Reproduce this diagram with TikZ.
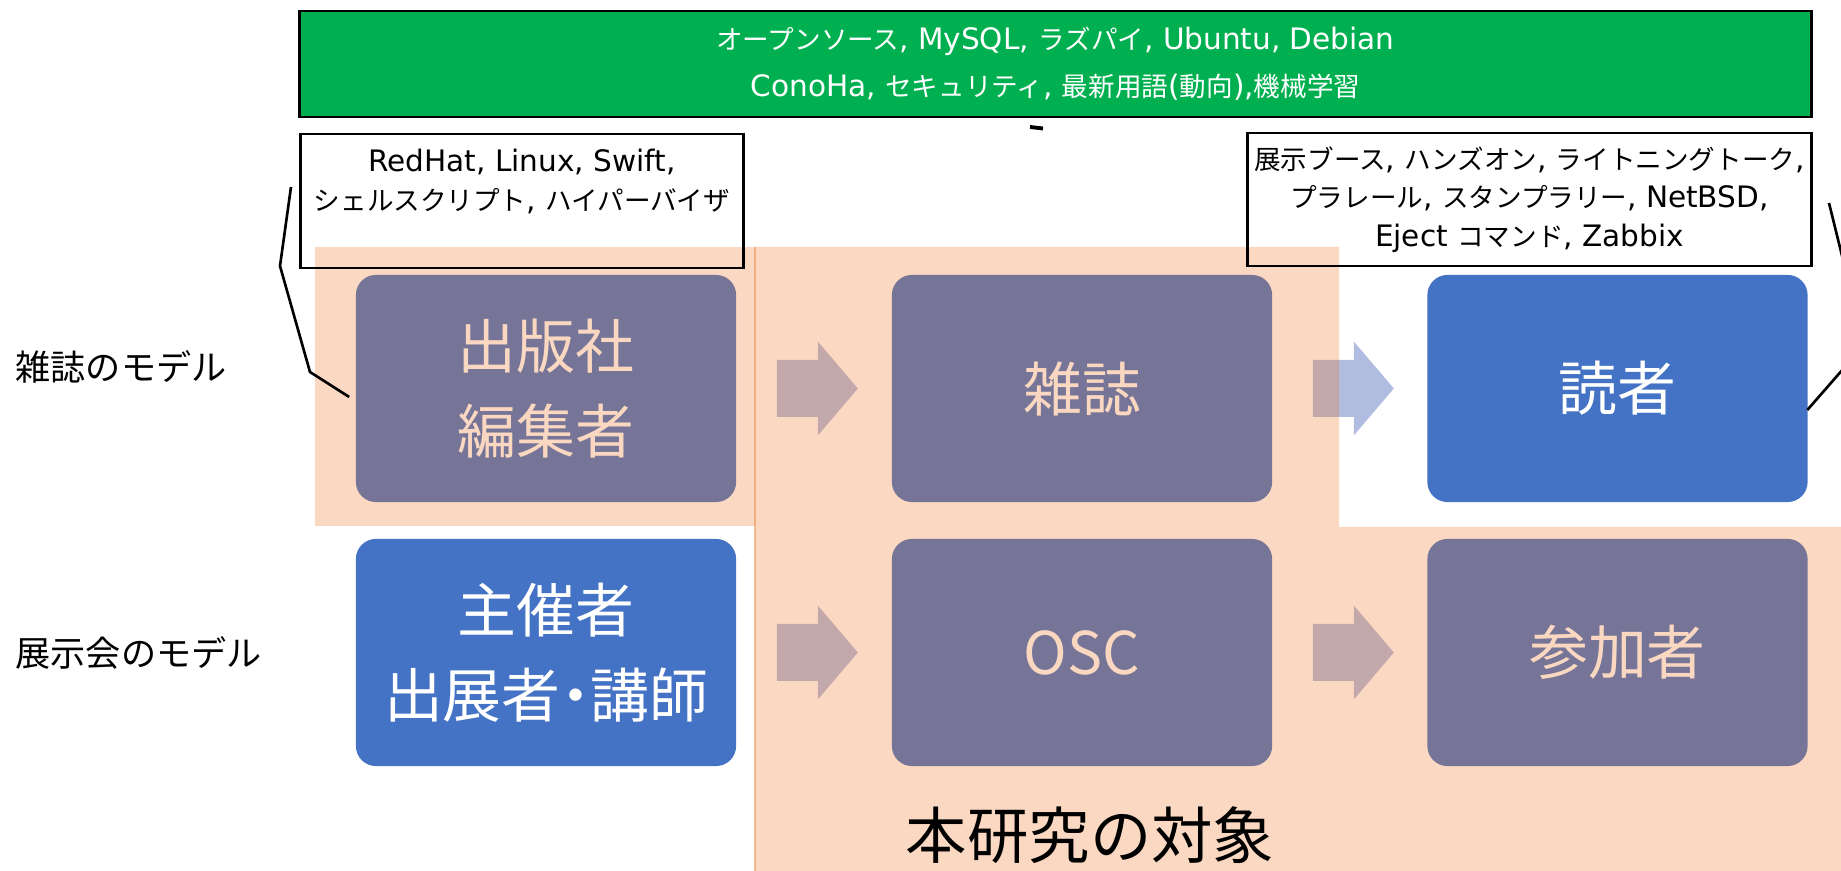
\documentclass[tikz,border=0pt]{standalone}
\usepackage{fontspec}
\setmainfont{DejaVu Sans}
\newfontfamily\jpfont[Scale=0.9]{Noto Sans CJK JP}
\usepackage{tikz}
\usetikzlibrary{calc}
\definecolor{figblue}{RGB}{68,114,196}
\definecolor{figarrow}{RGB}{176,188,224}
\definecolor{figorange}{RGB}{237,125,49}
\definecolor{figgreen}{RGB}{0,176,80}
\newcommand\jp[1]{{\jpfont #1}}
% block arrow starting just right of a box
\newcommand\blkarr[1]{%
  \fill[barr] ($(#1.east)+(40,-28.5)$) -- ++(41,0) -- ++(0,-18.5)
    -- ++(40,47) -- ++(-40,47) -- ++(0,-18.5) -- ++(-41,0) -- cycle;}
\tikzset{
  nbox/.style   ={fill=figblue, rounded corners=0.2cm, minimum width=3.8cm, minimum height=2.27cm,
                  inner sep=0pt, text=white, align=center, font=\fontsize{18.6}{24.2}\selectfont\jpfont},
  barr/.style   ={fill=figarrow},
  hl/.style     ={fill=figorange, fill opacity=0.3},
  hledge/.style ={draw=figorange, draw opacity=0.45, line width=0.35pt},
  tagbox/.style ={draw=black, line width=0.8pt, inner sep=0pt},
  tagtxt/.style ={align=center, inner sep=0pt, font=\fontsize{8.4}{11}\selectfont},
  topbox/.style ={draw=black, line width=0.8pt, fill=figgreen, text=white, align=center, inner sep=0pt,
                  minimum width=15.11cm, minimum height=1.06cm, font=\fontsize{8.4}{13.4}\selectfont},
  lead/.style   ={draw=black, line width=0.75pt},
  side/.style   ={anchor=west, inner sep=0pt, font=\fontsize{11.1}{13}\selectfont\jpfont},
  study/.style  ={inner sep=0pt, font=\fontsize{19.4}{22}\selectfont\jpfont},
}

\begin{document}
\begin{tikzpicture}[x=0.01cm,y=-0.01cm]
  \useasboundingbox (0,0) rectangle (1841,871);
  \clip (0,0) rectangle (1841,871);
  % two models, three stages each
  \node[nbox] (pub) at (546,388.5) {出版社\\編集者};
  \node[nbox] (mag) at (1082,388.5) {雑誌};
  \node[nbox] (rdr) at (1617.5,388.5) {読者};
  \node[nbox] (org) at (546,652.5) {主催者\\出展者\kern-.25em・\kern-.25em講師};
  \node[nbox] (osc) at (1082,652.5) {OSC};
  \node[nbox] (att) at (1617.5,652.5) {参加者};
  \blkarr{pub} \blkarr{mag}
  \blkarr{org} \blkarr{osc}
  % shaded area
  \fill[hl] (315,247) rectangle (755,526);
  \fill[hl] (755,247) -- (1339,247) -- (1339,527) -- (1841,527) -- (1841,871) -- (755,871) -- cycle;
  \draw[hledge] (755,247) -- (755,871);
  \node[study] (aim) at (1090,835) {本研究の対象};
  % keyword boxes
  \node[topbox] (kw) at (1055.5,64)
    {\jp{オープンソース}, MySQL, \jp{ラズパイ}, Ubuntu, Debian\\ConoHa, \jp{セキュリティ}, \jp{最新用語}(\jp{動向}),\jp{機械学習}};
  \draw[line width=1.1pt] (1030,127) -- (1043,128.5);
  \node[tagbox, minimum width=4.42cm, minimum height=1.34cm] (lt) at (522,201) {};
  \node[tagtxt] (lttxt) at (522,181.5) {RedHat, Linux, Swift,\\\jp{シェルスクリプト}, \jp{ハイパーバイザ}};
  \node[tagbox, minimum width=5.63cm, minimum height=1.33cm] (rt) at (1529.5,199.5) {};
  \node[tagtxt] (rttxt) at (rt) {\jp{展示ブース}, \jp{ハンズオン}, \jp{ライトニングトーク},\\\jp{プラレール}, \jp{スタンプラリー}, NetBSD,\\Eject \jp{コマンド}, Zabbix};
  \draw[lead] (291,187) -- (280,266) -- (310,372) -- ($(pub.west)+(-6,8.5)$);
  \draw[lead] (1829,203) -- (1848,280) -- (1858,352) -- ($(rdr.east)+(-1,21.5)$);
  % row labels
  \node[side] (mdl1) at (15,367) {雑誌のモデル};
  \node[side] (mdl2) at (15,653) {展示会のモデル};
\end{tikzpicture}
\end{document}
